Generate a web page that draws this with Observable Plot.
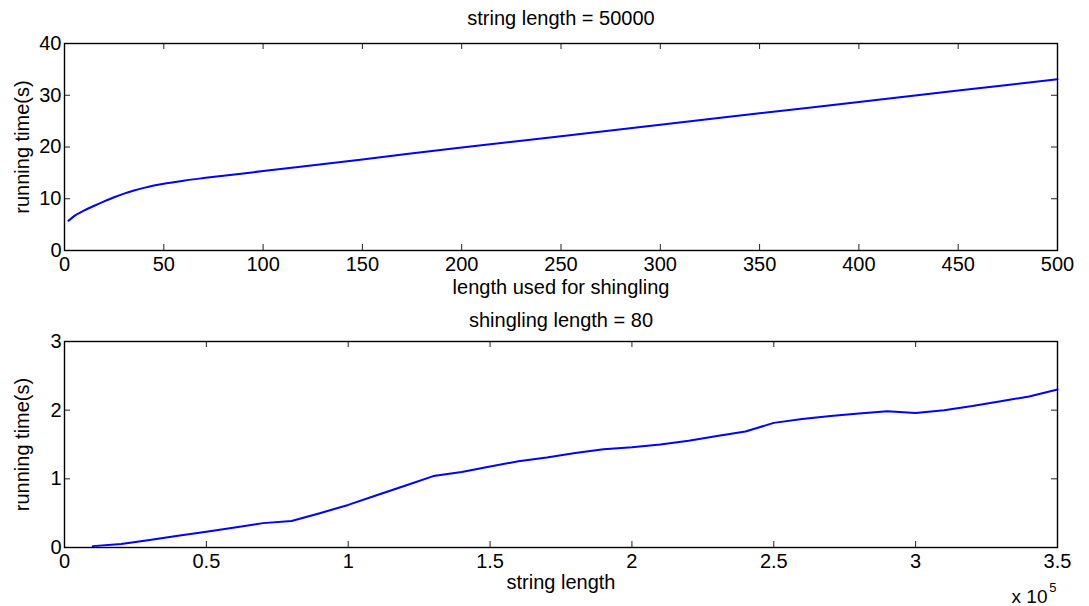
<!DOCTYPE html>
<html>
<head>
<meta charset="utf-8">
<script src="https://cdn.jsdelivr.net/npm/d3@7"></script>
<script src="https://cdn.jsdelivr.net/npm/@observablehq/plot@0.6"></script>
<style>
  html, body { margin: 0; padding: 0; background: #fff; }
  #chart { width: 1089px; height: 606px; position: relative; }
  #chart svg { display: block; }
</style>
</head>
<body>
<div id="chart"></div>
<script>
// ---- Top panel data: string length = 50000 ----
const topTitle = "string length = 50000";
const topXLabel = "length used for shingling";
const shinglingLength = [2, 5, 10, 15, 20, 25, 30, 35, 40, 45, 50, 55, 60, 70, 80, 90, 100, 150, 200, 250, 300, 350, 400, 450, 500];
const topTime = [5.75, 6.7, 7.75, 8.65, 9.5, 10.3, 11.0, 11.6, 12.1, 12.55, 12.9, 13.2, 13.5, 14.0, 14.45, 14.9, 15.35, 17.6, 19.9, 22.1, 24.3, 26.5, 28.7, 30.9, 33.1];
const topXTicks = [0, 50, 100, 150, 200, 250, 300, 350, 400, 450, 500];
const topYTicks = [0, 10, 20, 30, 40];

// ---- Bottom panel data: shingling length = 80 ----
const bottomTitle = "shingling length = 80";
const bottomXLabel = "string length";
const stringLength = [10000, 20000, 30000, 40000, 50000, 60000, 70000, 80000, 90000, 100000,
  110000, 120000, 130000, 140000, 150000, 160000, 170000, 180000, 190000, 200000,
  210000, 220000, 230000, 240000, 250000, 260000, 270000, 280000, 290000, 300000,
  310000, 320000, 330000, 340000, 350000];
const bottomTime = [0.02, 0.05, 0.11, 0.17, 0.23, 0.29, 0.355, 0.385, 0.50, 0.62,
  0.76, 0.90, 1.04, 1.10, 1.18, 1.255, 1.31, 1.375, 1.43, 1.46,
  1.50, 1.555, 1.625, 1.69, 1.815, 1.87, 1.915, 1.95, 1.985, 1.96,
  2.00, 2.06, 2.13, 2.20, 2.30];
const bottomXTicks = [0, 50000, 100000, 150000, 200000, 250000, 300000, 350000];
const bottomYTicks = [0, 1, 2, 3];
const yLabel = "running time(s)";
const exponentBase = "x 10";
const exponent = "5";

const FONT = "'Liberation Sans', Arial, Helvetica, sans-serif";
const W = 1089;
const ML = 64, MR = 32;
const FW = W - ML - MR;

function panel({xs, ys, xDomain, yDomain, xTicks, yTicks, xFmt, title, xLabel, height, marginTop, marginBottom, frameH, titleDy, labelDy, curve, extra = []}) {
  const data = xs.map((x, i) => ({x, y: ys[i]}));
  return Plot.plot({
    width: W,
    height,
    marginLeft: ML,
    marginRight: MR,
    marginTop,
    marginBottom,
    style: {fontFamily: FONT, fontSize: "20px", color: "#000", background: "#fff", overflow: "visible"},
    x: {domain: xDomain, ticks: xTicks, tickFormat: xFmt},
    y: {domain: yDomain, ticks: yTicks, tickFormat: d => String(d)},
    marks: [
      Plot.ruleX(xTicks, {x: d => d, insetTop: frameH - 6, stroke: "#222", strokeWidth: 1}),
      Plot.ruleX(xTicks, {x: d => d, insetBottom: frameH - 6, stroke: "#222", strokeWidth: 1}),
      Plot.ruleY(yTicks, {y: d => d, insetRight: FW - 6, stroke: "#222", strokeWidth: 1}),
      Plot.ruleY(yTicks, {y: d => d, insetLeft: FW - 6, stroke: "#222", strokeWidth: 1}),
      Plot.line(data, {x: "x", y: "y", stroke: "#0000ff", strokeWidth: 2, curve}),
      Plot.frame({stroke: "#000", strokeWidth: 1.4}),
      Plot.axisX({ticks: xTicks, tickFormat: xFmt, tickSize: 0, tickPadding: 6, label: null, fontSize: 20}),
      Plot.axisY({ticks: yTicks, tickFormat: d => String(d), tickSize: 0, tickPadding: 3, label: null, fontSize: 20}),
      Plot.text([title], {frameAnchor: "top", textAnchor: "middle", lineAnchor: "middle", dy: titleDy, fontSize: 20, fill: "#000"}),
      Plot.text([xLabel], {frameAnchor: "bottom", textAnchor: "middle", lineAnchor: "middle", dy: labelDy, fontSize: 20, fill: "#000"}),
      Plot.text([yLabel], {frameAnchor: "left", textAnchor: "middle", lineAnchor: "middle", rotate: -90, dx: -42, fontSize: 20, fill: "#000"}),
      ...extra
    ]
  });
}

const topPanel = panel({
  xs: shinglingLength, ys: topTime,
  xDomain: [0, 500], yDomain: [0, 40],
  xTicks: topXTicks, yTicks: topYTicks, xFmt: d => String(d),
  title: topTitle, xLabel: topXLabel,
  height: 300, marginTop: 43, marginBottom: 50, frameH: 207,
  titleDy: -25, labelDy: 37,
  curve: "monotone-x"
});

const bottomPanel = panel({
  xs: stringLength, ys: bottomTime,
  xDomain: [0, 350000], yDomain: [0, 3],
  xTicks: bottomXTicks, yTicks: bottomYTicks, xFmt: d => String(d / 100000),
  title: bottomTitle, xLabel: bottomXLabel,
  height: 306, marginTop: 41, marginBottom: 59, frameH: 206,
  titleDy: -21, labelDy: 35,
  curve: "linear",
  extra: [
    Plot.text([exponentBase], {frameAnchor: "bottom-right", textAnchor: "end", lineAnchor: "middle", dx: -10, dy: 49, fontSize: 19, fill: "#000"}),
    Plot.text([exponent], {frameAnchor: "bottom-right", textAnchor: "end", lineAnchor: "middle", dx: -1, dy: 40, fontSize: 13, fill: "#000"})
  ]
});

const chart = document.getElementById("chart");
chart.appendChild(topPanel);
chart.appendChild(bottomPanel);
</script>
</body>
</html>
